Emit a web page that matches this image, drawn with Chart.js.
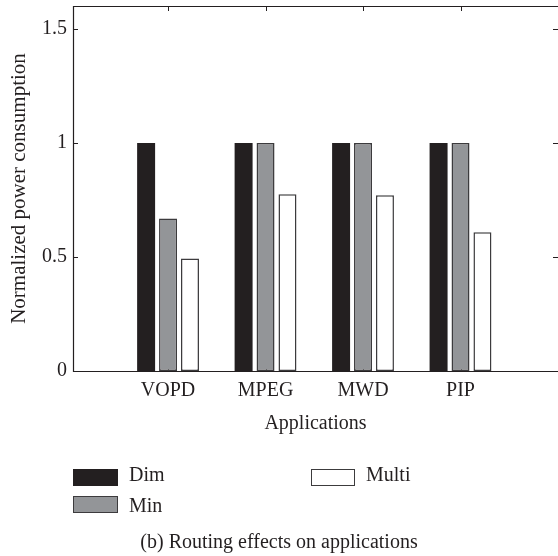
<!DOCTYPE html>
<html>
<head>
<meta charset="utf-8">
<script src="https://cdn.jsdelivr.net/npm/chart.js@4/dist/chart.umd.min.js"></script>
<style>
html,body{margin:0;padding:0;background:#ffffff;}
#wrap{position:relative;width:558px;height:556px;overflow:hidden;background:#fff;}
#c{position:absolute;left:0;top:0;}
.txt{position:absolute;font-family:'Liberation Serif',serif;font-size:20px;line-height:20px;color:#231f20;white-space:nowrap;}
.box{position:absolute;box-sizing:border-box;}
</style>
</head>
<body>
<div id="wrap">
  <canvas id="c" width="558" height="556"></canvas>
  <div id="legend"></div>
  <div class="txt" id="caption" style="left:0;width:558px;text-align:center;top:531px;">(b) Routing effects on applications</div>
</div>
<script>
// ---- data ----
const categories = ['VOPD', 'MPEG', 'MWD', 'PIP'];
const seriesNames = ['Dim', 'Min', 'Multi'];
const dimValues = [1, 1, 1, 1];
const minValues = [0.668, 1, 1, 1];
const multiValues = [0.493, 0.775, 0.77, 0.608];
const yTickValues = [0, 0.5, 1, 1.5];

// ---- styles ----
const INK = '#231f20';
const FONT = "'Liberation Serif', serif";
const fills = ['#231f20', '#939598', '#ffffff'];
const borders = ['#231f20', '#3c3b3d', '#3c3b3d'];
const borderWidths = [0, 1.5, 1.5];
const seriesValues = [dimValues, minValues, multiValues];

const datasets = seriesNames.map((name, s) => ({
  label: name,
  data: seriesValues[s].map((v, i) => ({ x: i + 1, y: v })),
  backgroundColor: fills[s],
  borderColor: borders[s],
  borderWidth: borderWidths[s],
  borderSkipped: false,
  categoryPercentage: 0.675,
  barPercentage: 0.82
}));

const TICK = 5;
const framePlugin = {
  id: 'frame',
  beforeDatasetsDraw(chart) {
    const { ctx, chartArea: a, scales: { x, y } } = chart;
    ctx.save();
    ctx.strokeStyle = INK;
    ctx.lineWidth = 1;
    ctx.beginPath();
    y.ticks.forEach(t => {
      const py = Math.round(y.getPixelForValue(t.value)) + 0.5;
      ctx.moveTo(a.left, py); ctx.lineTo(a.left + TICK, py);
      ctx.moveTo(a.right, py); ctx.lineTo(a.right - TICK, py);
    });
    x.ticks.forEach(t => {
      const px = Math.round(x.getPixelForValue(t.value)) + 0.5;
      ctx.moveTo(px, a.top); ctx.lineTo(px, a.top + TICK);
      ctx.moveTo(px, a.bottom); ctx.lineTo(px, a.bottom - TICK);
    });
    ctx.stroke();
    ctx.restore();
  },
  afterDatasetsDraw(chart) {
    const { ctx, chartArea: a } = chart;
    ctx.save();
    ctx.strokeStyle = INK;
    ctx.lineWidth = 1.2;
    ctx.beginPath();
    ctx.moveTo(a.right, Math.round(a.top) + 0.5);
    ctx.lineTo(Math.round(a.left) + 0.5, Math.round(a.top) + 0.5);
    ctx.lineTo(Math.round(a.left) + 0.5, Math.round(a.bottom) + 0.5);
    ctx.lineTo(a.right, Math.round(a.bottom) + 0.5);
    ctx.stroke();
    ctx.restore();
  }
};

const chart = new Chart(document.getElementById('c'), {
  type: 'bar',
  data: { datasets },
  options: {
    responsive: false,
    animation: false,
    devicePixelRatio: 1,
    layout: { padding: { left: 0, top: 6, right: -2, bottom: 120 } },
    plugins: { legend: { display: false }, tooltip: { enabled: false } },
    scales: {
      x: {
        type: 'linear',
        offset: false,
        min: 0.025,
        max: 5,
        grid: { display: false, drawTicks: false },
        border: { display: false },
        afterBuildTicks: s => { s.ticks = categories.map((c, i) => ({ value: i + 1 })); },
        afterFit: s => { s.height = 65; s.paddingLeft = 0; s.paddingRight = 0; },
        ticks: {
          autoSkip: false,
          maxRotation: 0,
          padding: 8,
          color: INK,
          font: { family: FONT, size: 20 },
          callback: v => categories[Math.round(v) - 1] || ''
        },
        title: {
          display: true,
          text: 'Applications',
          color: INK,
          font: { family: FONT, size: 20 },
          padding: { top: 0, bottom: 0 }
        }
      },
      y: {
        min: 0,
        max: 1.6,
        grid: { display: false, drawTicks: false },
        border: { display: false },
        afterBuildTicks: s => { s.ticks = yTickValues.map(v => ({ value: v })); },
        afterFit: s => { s.width = 73; s.paddingTop = 0; s.paddingBottom = 0; },
        ticks: {
          padding: 6,
          color: INK,
          font: { family: FONT, size: 20 },
          callback: v => String(v)
        },
        title: {
          display: true,
          text: 'Normalized power consumption',
          color: INK,
          font: { family: FONT, size: 21 },
          padding: { top: 7, bottom: 0 }
        }
      }
    }
  },
  plugins: [framePlugin]
});

// ---- legend (HTML, built from the datasets) ----
const legendSlots = [
  { box: [73, 469, 45, 17], text: [129, 464] },
  { box: [73, 496, 45, 17], text: [129, 495] },
  { box: [311, 469, 44, 17], text: [366, 464] }
];
const legend = document.getElementById('legend');
datasets.forEach((ds, i) => {
  const slot = legendSlots[i];
  const b = document.createElement('div');
  b.className = 'box';
  Object.assign(b.style, {
    left: slot.box[0] + 'px', top: slot.box[1] + 'px',
    width: slot.box[2] + 'px', height: slot.box[3] + 'px',
    background: ds.backgroundColor,
    border: '1.5px solid ' + (i === 0 ? ds.backgroundColor : ds.borderColor)
  });
  legend.appendChild(b);
  const t = document.createElement('div');
  t.className = 'txt';
  t.style.left = slot.text[0] + 'px';
  t.style.top = slot.text[1] + 'px';
  t.textContent = ds.label;
  legend.appendChild(t);
});
</script>
</body>
</html>
